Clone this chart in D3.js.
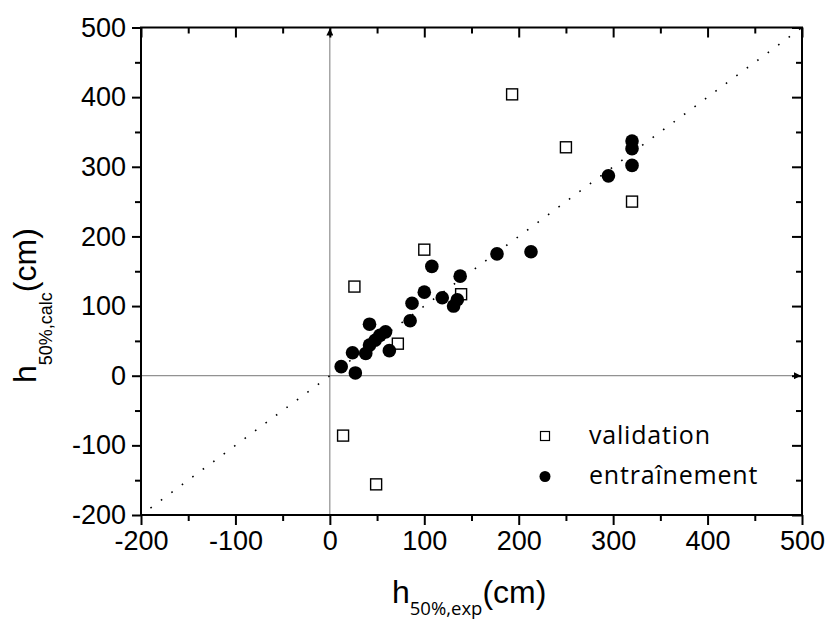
<!DOCTYPE html>
<html>
<head>
<meta charset="utf-8">
<script src="https://cdn.jsdelivr.net/npm/d3@7"></script>
<style>
  body { margin: 0; background: #fff; }
  svg { display: block; }
</style>
</head>
<body>
<script>
'use strict';

// h50% exp / calc values (cm)
const validationExp  = [193, 250, 320, 100, 26, 139, 72, 14, 49];
const validationCalc = [404, 328, 250, 181, 128, 117, 46, -86, -156];

const trainingExp  = [12, 27, 24, 38, 42, 48, 53, 59, 42, 63, 85, 87, 100, 108, 119, 131, 135, 138, 177, 213, 295, 320, 320, 320];
const trainingCalc = [13, 4, 33, 32, 44, 51, 58, 63, 74, 36, 79, 104, 120, 157, 112, 100, 109, 143, 175, 178, 287, 302, 326, 337];

const xTicks = [-200, -100, 0, 100, 200, 300, 400, 500];
const yTicks = [-200, -100, 0, 100, 200, 300, 400, 500];
const minorTicks = [-150, -50, 50, 150, 250, 350, 450];
const legendLabels = ['validation', 'entraînement'];

const W = 827, H = 621;
const plot = {left: 141, right: 802, top: 27.5, bottom: 515};

const x = d3.scaleLinear().domain([-200, 500]).range([plot.left, plot.right]);
const y = d3.scaleLinear().domain([-200, 500]).range([plot.bottom, plot.top]);

const svg = d3.select('body').append('svg')
    .attr('width', W)
    .attr('height', H);

const tickFont = '"Liberation Sans", Arial, sans-serif';
const legendFont = '"Open Sans", sans-serif';
const plain = d => String(d);   // keep the plain hyphen minus

// zero lines with arrows
const defs = svg.append('defs');
defs.append('marker')
    .attr('id', 'arrow')
    .attr('viewBox', '0 0 10 10')
    .attr('refX', 10).attr('refY', 5)
    .attr('markerWidth', 9).attr('markerHeight', 7)
    .attr('markerUnits', 'userSpaceOnUse')
    .attr('orient', 'auto')
  .append('path')
    .attr('d', 'M0,0 L10,5 L0,10 Z')
    .attr('fill', '#000');

svg.append('line')
    .attr('x1', x(0)).attr('x2', x(0))
    .attr('y1', plot.bottom).attr('y2', plot.top + 1)
    .attr('stroke', '#777').attr('stroke-width', 1)
    .attr('marker-end', 'url(#arrow)');

svg.append('line')
    .attr('x1', plot.left).attr('x2', plot.right - 1)
    .attr('y1', y(0)).attr('y2', y(0))
    .attr('stroke', '#777').attr('stroke-width', 1)
    .attr('marker-end', 'url(#arrow)');

// y = x reference line
svg.append('line')
    .attr('x1', x(-190)).attr('y1', y(-190))
    .attr('x2', x(500)).attr('y2', y(500))
    .attr('stroke', '#000').attr('stroke-width', 1.6)
    .attr('stroke-dasharray', '1.6,11.4');

function style(g) {
    g.select('.domain').remove();
    g.selectAll('.tick line').attr('stroke', '#000').attr('stroke-width', 2);
    g.selectAll('.tick text')
        .attr('fill', '#000')
        .style('font-family', tickFont)
        .style('font-size', '27px');
}

// major ticks + labels
svg.append('g').attr('transform', `translate(0,${plot.bottom})`)
    .call(d3.axisBottom(x).tickValues(xTicks).tickSize(10).tickPadding(6).tickFormat(plain))
    .call(style);
svg.append('g').attr('transform', `translate(${plot.left},0)`)
    .call(d3.axisLeft(y).tickValues(yTicks).tickSize(9).tickPadding(6).tickFormat(plain))
    .call(style);
svg.append('g').attr('transform', `translate(0,${plot.top})`)
    .call(d3.axisBottom(x).tickValues(xTicks).tickSize(10).tickFormat(''))
    .call(style);
svg.append('g').attr('transform', `translate(${plot.right},0)`)
    .call(d3.axisLeft(y).tickValues(yTicks).tickSize(10).tickFormat(''))
    .call(style);

// minor ticks
svg.append('g').attr('transform', `translate(0,${plot.bottom})`)
    .call(d3.axisBottom(x).tickValues(minorTicks).tickSize(6).tickFormat('')).call(style);
svg.append('g').attr('transform', `translate(${plot.left},0)`)
    .call(d3.axisLeft(y).tickValues(minorTicks).tickSize(6).tickFormat('')).call(style);
svg.append('g').attr('transform', `translate(0,${plot.top})`)
    .call(d3.axisBottom(x).tickValues(minorTicks).tickSize(6).tickFormat('')).call(style);
svg.append('g').attr('transform', `translate(${plot.right},0)`)
    .call(d3.axisLeft(y).tickValues(minorTicks).tickSize(6).tickFormat('')).call(style);

// frame
svg.append('rect')
    .attr('x', plot.left).attr('y', plot.top)
    .attr('width', plot.right - plot.left)
    .attr('height', plot.bottom - plot.top)
    .attr('fill', 'none')
    .attr('stroke', '#000').attr('stroke-width', 2);

// data
const validation = validationExp.map((v, i) => ({exp: v, calc: validationCalc[i]}));
const training = trainingExp.map((v, i) => ({exp: v, calc: trainingCalc[i]}));

const sq = 11;
svg.append('g').selectAll('rect')
    .data(validation)
    .enter().append('rect')
        .attr('x', d => x(d.exp) - sq / 2)
        .attr('y', d => y(d.calc) - sq / 2)
        .attr('width', sq).attr('height', sq)
        .attr('fill', '#fff')
        .attr('stroke', '#000').attr('stroke-width', 1.4);

svg.append('g').selectAll('circle')
    .data(training)
    .enter().append('circle')
        .attr('cx', d => x(d.exp))
        .attr('cy', d => y(d.calc))
        .attr('r', 6.8)
        .attr('fill', '#000');

// legend
const legend = svg.append('g');
legend.append('rect')
    .attr('x', 545 - 4.5).attr('y', 436 - 4.5)
    .attr('width', 9).attr('height', 9)
    .attr('fill', '#fff').attr('stroke', '#000').attr('stroke-width', 1.2);
legend.append('circle')
    .attr('cx', 545).attr('cy', 476.5).attr('r', 5.5).attr('fill', '#000');
legend.selectAll('text')
    .data(legendLabels)
    .enter().append('text')
        .attr('x', 589)
        .attr('y', (d, i) => 444 + i * 40)
        .style('font-family', legendFont)
        .style('font-size', '25px')
        .style('letter-spacing', '0.8px')
        .attr('fill', '#000')
        .text(d => d);

// axis titles
const xTitle = svg.append('text')
    .attr('x', 392).attr('y', 603)
    .style('font-family', tickFont)
    .attr('fill', '#000');
xTitle.append('tspan').style('font-size', '32px').text('h');
xTitle.append('tspan').attr('dy', 12).style('font-size', '18.5px')
    .style('font-family', legendFont).text('50%,exp');
xTitle.append('tspan').attr('dy', -12).style('font-size', '32px').text('(cm)');

const yTitle = svg.append('text')
    .attr('transform', 'translate(36,383) rotate(-90)')
    .style('font-family', tickFont)
    .attr('fill', '#000');
yTitle.append('tspan').style('font-size', '32px').text('h');
yTitle.append('tspan').attr('dy', 16).style('font-size', '18px').text('50%,calc');
yTitle.append('tspan').attr('dy', -16).style('font-size', '32px').text('(cm)');
</script>
</body>
</html>
